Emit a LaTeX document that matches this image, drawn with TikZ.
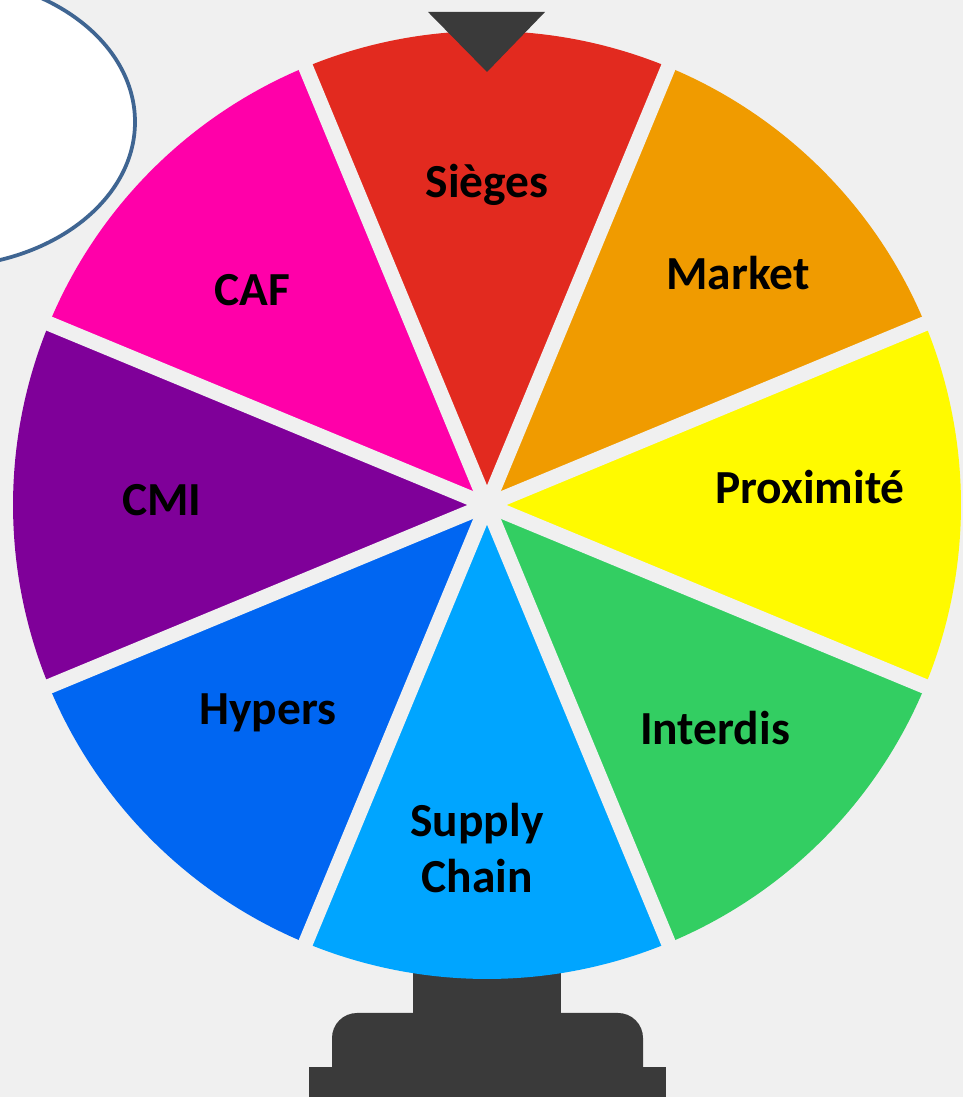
\documentclass[tikz,border=0pt]{standalone}
\usepackage{fontspec}
\newfontfamily\wheelfont{Carlito}
\definecolor{wheelbg}{RGB}{240,240,240}
\definecolor{bubbleblue}{RGB}{63,101,146}
\definecolor{standgray}{RGB}{58,58,58}
\definecolor{siegesred}{RGB}{226,42,31}
\definecolor{marketorange}{RGB}{240,155,0}
\definecolor{proxyellow}{RGB}{255,250,0}
\definecolor{interdisgreen}{RGB}{51,206,98}
\definecolor{supplyblue}{RGB}{0,165,255}
\definecolor{hypersblue}{RGB}{0,102,242}
\definecolor{cmipurple}{RGB}{127,0,153}
\definecolor{cafpink}{RGB}{255,0,169}

\begin{document}
\begin{tikzpicture}[x=0.02cm,y=0.02cm,
    spoke/.style={wheelbg,line width=0.3cm},
    lbl/.style={font=\wheelfont\bfseries\fontsize{27}{32}\selectfont,align=center}]
  \clip (0,0) rectangle (963,1097);
  \fill[wheelbg] (0,0) rectangle (963,1097);
  \draw[fill=white,draw=bubbleblue,line width=0.075cm] (-60,975) ellipse [x radius=195,y radius=145];
  % stand
  \fill[standgray] (413,82) rectangle (561,140);
  \fill[standgray] (332,30) {[rounded corners=0.5cm] -- (332,84) -- (643,84)} -- (643,30) -- cycle;
  \fill[standgray] (309,0) rectangle (666,30);
  % wheel
  \coordinate (hub) at (487,592);
  \foreach \a/\c in {90/siegesred, 45/marketorange, 0/proxyellow, -45/interdisgreen,
                     -90/supplyblue, -135/hypersblue, 180/cmipurple, 135/cafpink}
    \fill[\c] (hub) -- ++(\a-22.5:474) arc[start angle=\a-22.5,end angle=\a+22.5,radius=474] -- cycle;
  \foreach \a in {22.5,67.5,...,337.5}
    \draw[spoke] (hub) -- ++(\a:490);
  \fill[wheelbg] (hub) circle (12);
  \fill[standgray] (428,1085) -- (545,1085) -- (487,1025) -- cycle;
  \foreach \n/\x/\y/\t in {sieges/487/912/Sièges, market/738/824/Market,
                           proximite/810/610/Proximité, interdis/715/369/Interdis,
                           supply/477/249/{Supply\\Chain}, hypers/268/384/Hypers,
                           cmi/162/597/CMI, caf/252/807/CAF}
    \node[lbl] (\n) at (\x,\y) {\t};
\end{tikzpicture}
\end{document}
